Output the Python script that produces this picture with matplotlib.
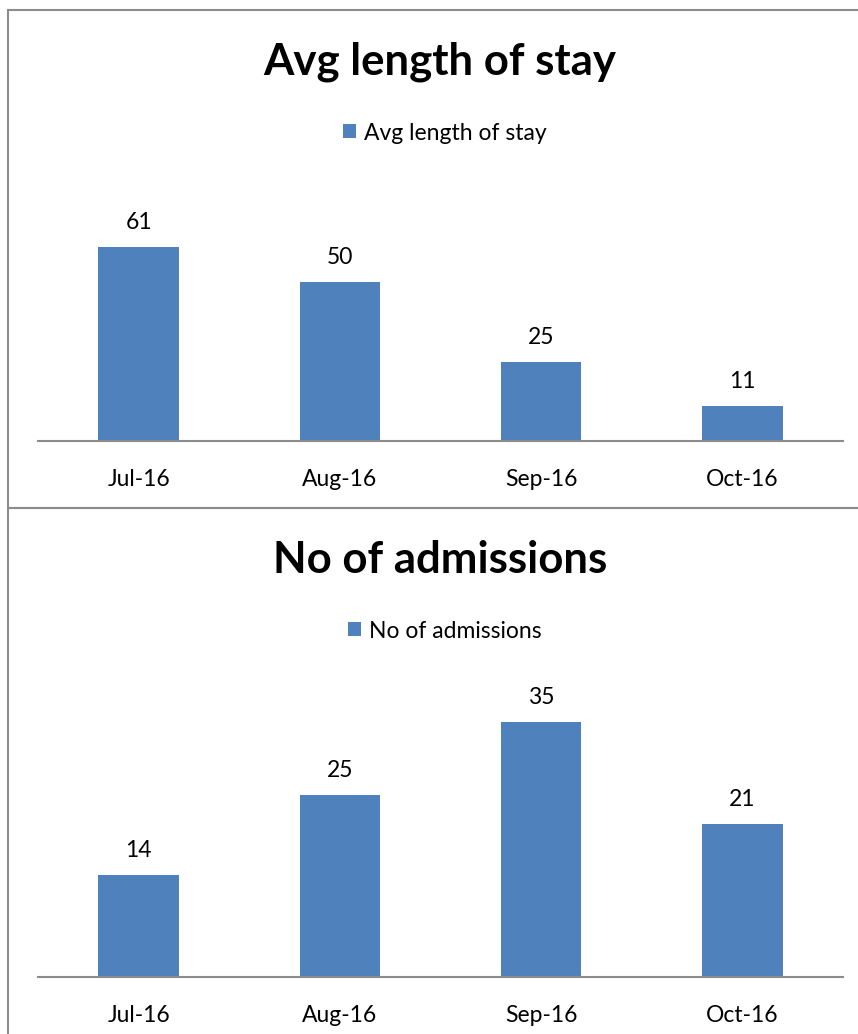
import matplotlib.pyplot as plt
from matplotlib.patches import Rectangle
import numpy as np

months = ['Jul-16', 'Aug-16', 'Sep-16', 'Oct-16']
avg_stay = [61, 50, 25, 11]
admissions = [14, 25, 35, 21]

plt.rcParams['font.family'] = ['Lato', 'DejaVu Sans']

W, H = 858, 1034
fig = plt.figure(figsize=(W / 100, H / 100), dpi=100)
bar_color = '#4F81BD'
grey = '#8C8C8C'

# chart frames
fig.patches.append(Rectangle((8 / W, 1 - 508 / H), 1, 498 / H, transform=fig.transFigure,
                             fill=False, edgecolor=grey, linewidth=1.5))
fig.patches.append(Rectangle((8 / W, -0.1), 1, 0.1 + 1 - 508 / H, transform=fig.transFigure,
                             fill=False, edgecolor=grey, linewidth=1.5))


def bar_panel(bottom_px, top_px, ymax, values, title, title_y, legend_y):
    ax = fig.add_axes([38 / W, 1 - bottom_px / H, 805 / W, (bottom_px - top_px) / H])
    x = np.arange(len(months))
    bars = ax.bar(x, values, width=0.4, color=bar_color, label=title)
    ax.set_xlim(-0.5, len(months) - 0.5)
    ax.set_ylim(0, ymax)
    ax.set_xticks(x)
    ax.set_xticklabels(months, fontsize=16.5)
    ax.tick_params(axis='x', length=0, pad=20)
    ax.set_yticks([])
    for side in ['left', 'right', 'top']:
        ax.spines[side].set_visible(False)
    ax.spines['bottom'].set_color(grey)
    ax.spines['bottom'].set_linewidth(1.5)
    for b, v in zip(bars, values):
        ax.annotate(str(v), (b.get_x() + b.get_width() / 2, v), xytext=(0, 10),
                    textcoords='offset points', ha='center', va='bottom', fontsize=16.5)
    fig.text(440 / W, 1 - title_y / H, title, ha='center', va='center',
             fontsize=31.5, fontweight='bold')
    fig.legend(handles=[bars], labels=[title], loc='center',
               bbox_to_anchor=(445 / W, 1 - legend_y / H), frameon=False,
               fontsize=16.5, handlelength=0.55, handleheight=0.55, handletextpad=0.35)
    return ax


bar_panel(441, 441 - 70 * 3.18, 70, avg_stay, 'Avg length of stay', 62, 133)
bar_panel(977, 977 - 40 * 7.3, 40, admissions, 'No of admissions', 560, 631)

fig.savefig('out.png', dpi=100)
